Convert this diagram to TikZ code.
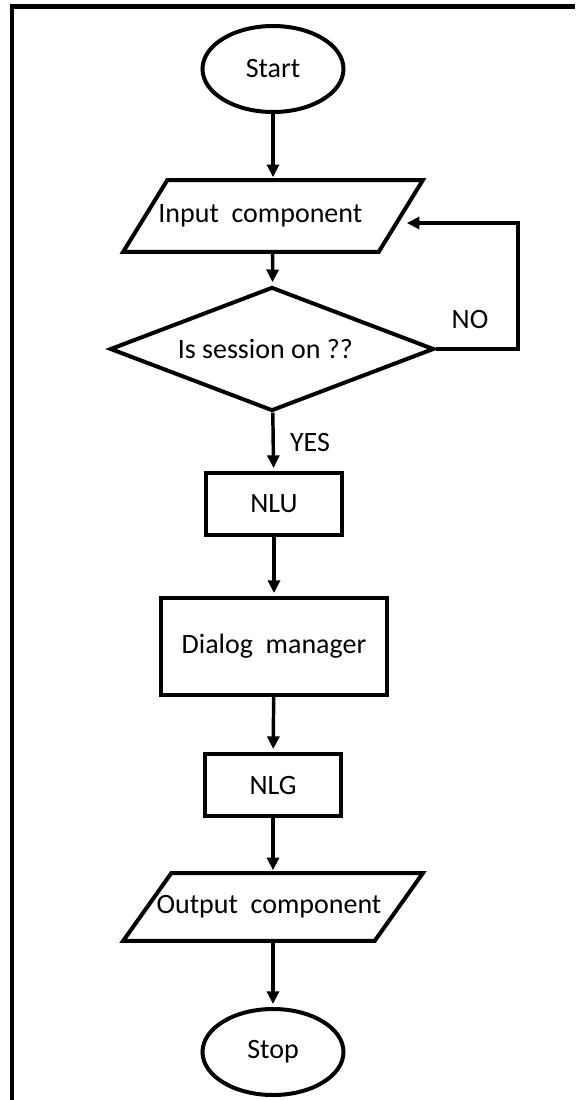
\documentclass[tikz,border=0pt]{standalone}
\usepackage{fontspec}
\setmainfont{Carlito}
\usetikzlibrary{shapes.geometric,arrows.meta}
\begin{document}
\begin{tikzpicture}[x=0.75pt,y=-0.75pt,
  every node/.style={font=\fontsize{21}{25}\selectfont, inner sep=0pt},
  shapeline/.style={line width=3pt},
  terminal/.style={ellipse, draw, shapeline, minimum width=105.75pt, minimum height=64.5pt},
  process/.style={rectangle, draw, shapeline},
  ioslot/.style={rectangle, minimum width=224.25pt},
  decision/.style={diamond, aspect=2.6, draw, shapeline, minimum width=243pt, minimum height=93pt},
  flow/.style={line width=2.6pt, -{Triangle[length=9.5pt,width=9pt]}, shorten >=2.25pt},
  frameline/.style={line width=3.2pt}]
  \useasboundingbox (0,0) rectangle (575,1100);

  % open frame: top and left edges only
  \draw[frameline] (12,1100) -- (12,6.5) -- (575,6.5);

  % flow steps
  \node[terminal] (start) at (273,69) {Start};

  \node[ioslot, minimum height=53.25pt] (inp) at (273,216) {Input\ \ component\rule{19pt}{0pt}};
  \draw[shapeline] ([xshift=33pt]inp.north west) -- (inp.north east)
    -- ([xshift=-33pt]inp.south east) -- (inp.south west) -- cycle;

  \node[decision] (dia) at (272,349) {Is session on ??\rule{10pt}{0pt}};

  \node[process, minimum width=102pt, minimum height=46.5pt] (nlu) at (274,504) {NLU};
  \node[process, minimum width=169.5pt, minimum height=72.75pt] (dm) at (274,646.5) {Dialog\ \ manager};
  \node[process, minimum width=102pt, minimum height=46.5pt] (nlg) at (273,785) {NLG};

  \node[ioslot, minimum height=50.25pt] (out) at (273,907) {Output\ \ component\rule{6pt}{0pt}};
  \draw[shapeline] ([xshift=36pt]out.north west) -- (out.north east)
    -- ([xshift=-36pt]out.south east) -- (out.south west) -- cycle;

  \node[terminal] (stop) at (273,1052) {Stop};

  % branch labels
  \node (yes) at (310,443) {YES};
  \node (no) at (470,320) {NO};

  % connectors
  \draw[flow] (start) -- (inp);
  \draw[flow] (inp) -- (dia);
  \draw[flow] (dia) -- (nlu);
  \draw[flow] (nlu) -- (dm);
  \draw[flow] (dm) -- (nlg);
  \draw[flow] (nlg) -- (out);
  \draw[flow] (out) -- (stop);

  % loop back when no session is active
  \coordinate (loopx) at (518,0);
  \coordinate (inpR) at ([shift={(-19,7)}]inp.east);
  \draw[flow] (dia.east) -- (dia.east -| loopx) |- (inpR);
\end{tikzpicture}
\end{document}
